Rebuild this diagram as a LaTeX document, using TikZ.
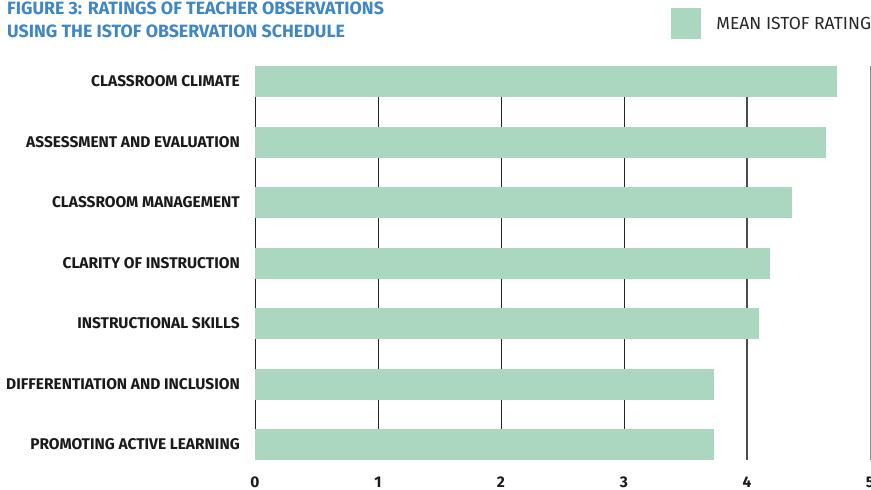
\documentclass[tikz,border=0pt]{standalone}
\usepackage{fontspec}
\setmainfont{Fira Sans}
\usepackage{xcolor}
\usetikzlibrary{positioning}
\definecolor{barmint}{RGB}{171,215,192}
\definecolor{titleblue}{RGB}{62,134,196}
\definecolor{labelink}{RGB}{26,26,26}
\tikzset{
    bar/.style={fill=barmint},
    grid/.style={draw=black!85, line width=0.9pt},
    catlabel/.style={anchor=east, inner sep=0pt, text=labelink, font=\fontsize{15.5}{18}\selectfont\bfseries},
    ticklabel/.style={inner sep=0pt, text=labelink, font=\fontsize{15.5}{18}\selectfont\bfseries}
}

\begin{document}
\begin{tikzpicture}[x=1pt, y=-1pt]
    \useasboundingbox (0,0) rectangle (871,490);

    % title
    \node[anchor=north west, inner sep=0pt, align=left, text=titleblue,
          font=\fontsize{17.8}{23}\selectfont\bfseries] (title) at (7,1.5)
          {FIGURE 3: RATINGS OF TEACHER OBSERVATIONS\\USING THE ISTOF OBSERVATION SCHEDULE};

    % legend
    \node[bar, minimum width=30pt, minimum height=31pt, inner sep=0pt] (key) at (686,23.5) {};
    \node[right=15pt of key, inner sep=0pt, text=black!85, font=\fontsize{17.5}{20}\selectfont] (keytext) {MEAN ISTOF RATING};

    % grid lines
    \draw[grid] (255,66) -- (255,460);
    \draw[grid] (378,66) -- (378,460);
    \draw[grid] (501,66) -- (501,460);
    \draw[grid] (624,66) -- (624,460);
    \draw[draw=black!70, line width=1.5pt] (747,66) -- (747,460);
    \draw[draw=black!45, line width=0.8pt] (870,66) -- (870,460);

    % bars
    \fill[bar] (255,66) rectangle (837,97);
    \fill[bar] (255,126.5) rectangle (826,157.5);
    \fill[bar] (255,187) rectangle (792,218);
    \fill[bar] (255,247.5) rectangle (770,278.5);
    \fill[bar] (255,308) rectangle (759,339);
    \fill[bar] (255,368.5) rectangle (714,399.5);
    \fill[bar] (255,429) rectangle (714,460);

    % categories
    \node[catlabel] (climate) at (240,81.5) {CLASSROOM CLIMATE};
    \node[catlabel] (assess) at (240,142) {ASSESSMENT AND EVALUATION};
    \node[catlabel] (manage) at (240,202.5) {CLASSROOM MANAGEMENT};
    \node[catlabel] (clarity) at (240,263) {CLARITY OF INSTRUCTION};
    \node[catlabel] (skills) at (240,323.5) {INSTRUCTIONAL SKILLS};
    \node[catlabel] (diff) at (240,384) {DIFFERENTIATION AND INCLUSION};
    \node[catlabel] (active) at (240,444.5) {PROMOTING ACTIVE LEARNING};

    % axis values
    \node[ticklabel] (t0) at (255,482) {0};
    \node[ticklabel] (t1) at (378,482) {1};
    \node[ticklabel] (t2) at (501,482) {2};
    \node[ticklabel] (t3) at (624,482) {3};
    \node[ticklabel] (t4) at (747,482) {4};
    \node[ticklabel] (t5) at (870,482) {5};
\end{tikzpicture}
\end{document}
